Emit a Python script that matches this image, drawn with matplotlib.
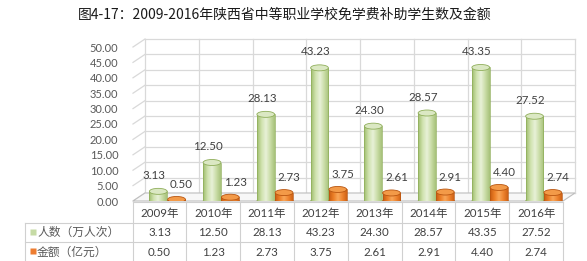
import numpy as np
import matplotlib
matplotlib.use("Agg")
import matplotlib.pyplot as plt
from matplotlib.patches import Ellipse, Polygon
from matplotlib.colors import LinearSegmentedColormap

plt.rcParams['font.family'] = ['Lato', 'Noto Sans CJK SC', 'DejaVu Sans']

title = "图4-17：2009-2016年陕西省中等职业学校免学费补助学生数及金额"
years = ["2009年", "2010年", "2011年", "2012年", "2013年", "2014年", "2015年", "2016年"]
people = [3.13, 12.50, 28.13, 43.23, 24.30, 28.57, 43.35, 27.52]
money = [0.50, 1.23, 2.73, 3.75, 2.61, 2.91, 4.40, 2.74]
series_names = ["人数（万人次）", "金额（亿元）"]
yticks = [0, 5, 10, 15, 20, 25, 30, 35, 40, 45, 50]

W, H = 587, 261
fig = plt.figure(figsize=(W / 100, H / 100), dpi=100)

def fx(px):
    return px / W

def fy(py):
    return 1 - py / H

ax_l, ax_r, ax_t, ax_b = 133, 563, 47, 201
ax = fig.add_axes([fx(ax_l), fy(ax_b), fx(ax_r) - fx(ax_l), fy(ax_t) - fy(ax_b)])
n = len(years)
ax.set_xlim(-0.5, n - 0.5)
ax.set_ylim(0, 50)
for s in ax.spines.values():
    s.set_visible(False)
ax.set_xticks([])
ax.set_yticks(yticks)
ax.set_yticklabels([f"{v:.2f}" for v in yticks])
ax.tick_params(axis='y', length=0, pad=10.5, labelsize=8, labelcolor='#595959')
ax.patch.set_alpha(0)

px_x = (ax_r - ax_l) / n      # pixels per category unit
px_y = (ax_b - ax_t) / 50.0   # pixels per value unit
dx = 12 / px_x
dy = 8 / px_y

grid_c = '#d9d9d9'
# back wall grid
for v in yticks:
    ax.plot([-0.5 + dx, n - 0.5 + dx], [v + dy, v + dy], color=grid_c, lw=0.9, zorder=0.5, clip_on=False)
    ax.plot([-0.5, -0.5 + dx], [v, v + dy], color=grid_c, lw=0.9, zorder=0.5, clip_on=False)
for b in np.arange(-0.5, n, 1.0):
    ax.plot([b + dx, b + dx], [dy, 50 + dy], color=grid_c, lw=0.9, zorder=0.5, clip_on=False)
# floor
floor = Polygon([(-0.5, 0), (n - 0.5, 0), (n - 0.5 + dx, dy), (-0.5 + dx, dy)],
                closed=True, facecolor='#f7f7f7', edgecolor='#bfbfbf', lw=0.8, zorder=1, clip_on=False)
ax.add_patch(floor)

green_cmap = LinearSegmentedColormap.from_list('g', ['#9fbd6e', '#cfe2ad', '#e8f1d8', '#c9dca6', '#a7c27a'])
orange_cmap = LinearSegmentedColormap.from_list('o', ['#c85c12', '#ec7f27', '#f9a85a', '#ee8430', '#cf6316'])
grad = np.linspace(0, 1, 64).reshape(1, -1)

bw = 0.33
ell_h = 6 / px_y
x = np.arange(n)

def cylinder(xc, v, cmap, edge, top_face, z):
    bar = ax.bar(xc, v, width=bw, color='none', edgecolor='none', zorder=z)[0]
    im = ax.imshow(grad, extent=[xc - bw / 2, xc + bw / 2, 0, v], aspect='auto', cmap=cmap, zorder=z)
    im.set_clip_path(bar)
    bot = Ellipse((xc, 0), bw, ell_h, facecolor=cmap(0.5), edgecolor=edge, lw=0.5, zorder=z - 0.1)
    ax.add_patch(bot)
    ax.plot([xc - bw / 2, xc - bw / 2], [0, v], color=edge, lw=0.5, zorder=z + 0.05)
    ax.plot([xc + bw / 2, xc + bw / 2], [0, v], color=edge, lw=0.5, zorder=z + 0.05)
    top = Ellipse((xc, v), bw, ell_h, facecolor=top_face, edgecolor=edge, lw=0.6, zorder=z + 0.1)
    ax.add_patch(top)

for i in range(n):
    gx = x[i] - 0.03
    ox = x[i] + 0.31
    cylinder(gx, people[i], green_cmap, '#8fae5a', '#dbe8c3', 3)
    cylinder(ox, money[i], orange_cmap, '#b85510', '#f39a48', 4)
    ax.annotate(f"{people[i]:.2f}", (gx, people[i]), xytext=(-4, 16), textcoords='offset pixels',
                ha='center', va='center', fontsize=8.3, color='#404040', zorder=6)
    ax.annotate(f"{money[i]:.2f}", (ox, money[i]), xytext=(5, 15), textcoords='offset pixels',
                ha='center', va='center', fontsize=8.3, color='#404040', zorder=6)

ax.set_xlim(-0.5, n - 0.5)
ax.set_ylim(0, 50)

# title
fig.text(fx(285), fy(15), title, ha='center', va='center', fontsize=10,
         family=['Noto Sans CJK SC'], color='#1a1a1a')

# data table
tax = fig.add_axes([fx(25), 0, fx(563) - fx(25), fy(202)])
tax.set_xlim(-2.5, n - 0.5)
tax.set_ylim(261, 202)
tax.axis('off')
line_c = '#d0d0d0'
tax.plot([-0.5, n - 0.5], [202, 202], color=line_c, lw=0.8, clip_on=False)
for yy in (223, 242):
    tax.plot([-2.5, n - 0.5], [yy, yy], color=line_c, lw=0.8, clip_on=False)
tax.plot([-2.5, -2.5], [223, 261], color=line_c, lw=0.8, clip_on=False)
for b in np.arange(-0.5, n, 1.0):
    tax.plot([b, b], [202, 261], color=line_c, lw=0.8, clip_on=False)

txt_c = '#404040'
for i in range(n):
    tax.text(x[i], 213, years[i], ha='center', va='center', fontsize=8.3, color=txt_c)
    tax.text(x[i], 232.5, f"{people[i]:.2f}", ha='center', va='center', fontsize=8.3, color=txt_c)
    tax.text(x[i], 252, f"{money[i]:.2f}", ha='center', va='center', fontsize=8.3, color=txt_c)

mk_x = -2.5 + 7.5 / px_x
lab_x = -2.5 + 12 / px_x
tax.plot([mk_x], [232], marker='s', markersize=4, color='#c6dba5', mec='none', clip_on=False)
tax.plot([mk_x], [251], marker='s', markersize=4, color='#ed7d31', mec='none', clip_on=False)
tax.text(lab_x, 232.5, series_names[0], ha='left', va='center', fontsize=8.5, color='#595959')
tax.text(lab_x, 252, series_names[1], ha='left', va='center', fontsize=8.5, color='#595959')

fig.savefig("out.png", dpi=100)
